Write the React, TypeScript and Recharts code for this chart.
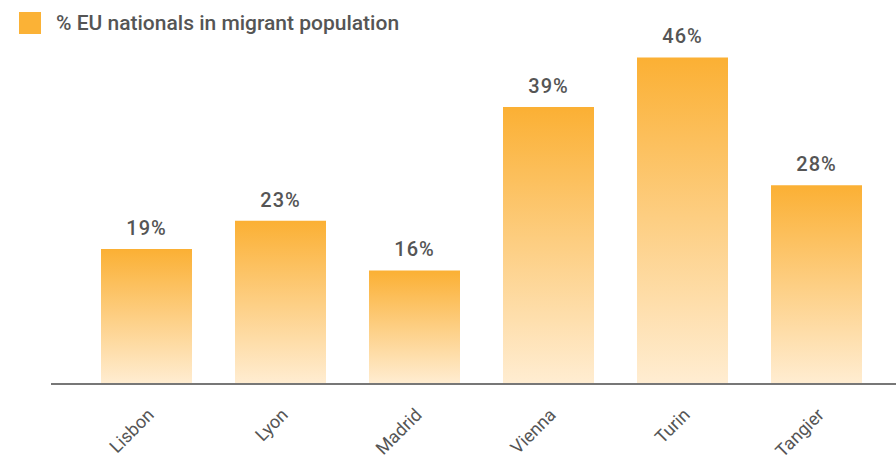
import React from 'react';
import { BarChart, Bar, XAxis, YAxis, LabelList, Legend } from 'recharts';

const categories = ['Lisbon', 'Lyon', 'Madrid', 'Vienna', 'Turin', 'Tangier'];
const shares = [19, 23, 16, 39, 46, 28];
const seriesName = '% EU nationals in migrant population';

const data = categories.map((city, i) => ({ city, value: shares[i] }));

const LegendContent = () => (
  <div style={{ display: 'flex', alignItems: 'center', height: 22, fontFamily: 'Roboto', fontSize: 21, fontWeight: 500, color: '#555', whiteSpace: 'nowrap' }}>
    <span style={{ display: 'inline-block', width: 22, height: 22, background: '#FBB236', marginRight: 15 }} />
    <span>{seriesName}</span>
  </div>
);

export default function App() {
  return (
    <div style={{ position: 'absolute', left: 0, top: 0, width: 896, height: 460, fontFamily: 'Roboto', background: '#fff' }}>
      <BarChart width={896} height={460} data={data} margin={{ top: 7, right: 0, left: 51, bottom: 0 }}>
        <defs>
          <linearGradient id="barGrad" x1="0" y1="0" x2="0" y2="1">
            <stop offset="0%" stopColor="#FBB034" />
            <stop offset="100%" stopColor="#FFEDD2" />
          </linearGradient>
        </defs>
        <Legend
          layout="horizontal"
          verticalAlign="top"
          align="left"
          wrapperStyle={{ top: 12, left: 19, width: 500, height: 22 }}
          content={<LegendContent />}
        />
        <YAxis hide domain={[0, 50]} />
        <XAxis
          dataKey="city"
          height={76}
          padding={{ left: 28, right: 13 }}
          axisLine={{ stroke: '#777', strokeWidth: 2 }}
          tickLine={false}
          interval={0}
          angle={-45}
          textAnchor="end"
          tick={{ fill: '#555', fontSize: 18, fontFamily: 'Roboto' }}
          tickMargin={17}
        />
        <Bar dataKey="value" name={seriesName} fill="url(#barGrad)" barSize={91} isAnimationActive={false}>
          <LabelList
            dataKey="value"
            position="top"
            offset={14}
            formatter={(v: number) => `${v}%`}
            style={{ fill: '#555', fontSize: 20, fontWeight: 500, fontFamily: 'Roboto', letterSpacing: 1 }}
          />
        </Bar>
      </BarChart>
    </div>
  );
}
